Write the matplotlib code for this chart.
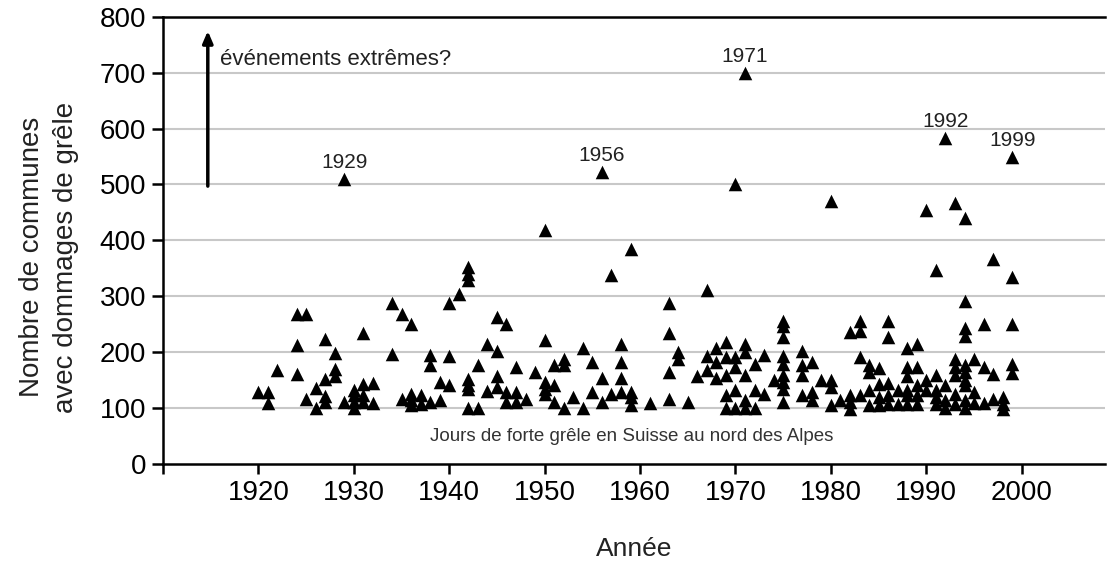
import matplotlib
matplotlib.use("Agg")
import matplotlib.pyplot as plt

# Hail days north of the Alps: for each year, the number of communes hit on each day
years = [1920, 1921, 1922, 1924, 1925, 1926, 1927, 1928, 1929,
         1930, 1931, 1932, 1934, 1935, 1936, 1937, 1938, 1939,
         1940, 1941, 1942, 1943, 1944, 1945, 1946, 1947, 1948, 1949,
         1950, 1951, 1952, 1953, 1954, 1955, 1956, 1957, 1958, 1959,
         1961, 1963, 1964, 1965, 1966, 1967, 1968, 1969,
         1970, 1971, 1972, 1973, 1974, 1975, 1977, 1978, 1979,
         1980, 1981, 1982, 1983, 1984, 1985, 1986, 1987, 1988, 1989,
         1990, 1991, 1992, 1993, 1994, 1995, 1996, 1997, 1998, 1999]
communes = [
    [128], [128, 108], [168], [267, 213, 161], [267, 115], [136, 99],
    [223, 152, 121, 110], [198, 169, 156], [510, 111],
    [131, 122, 110, 99], [234, 142, 122, 110], [144, 108], [288, 196],
    [267, 116], [250, 125, 113, 104], [122, 107], [195, 176, 110], [146, 113],
    [288, 193, 140], [304], [352, 340, 329, 152, 140, 134, 100], [176, 100],
    [214, 130], [262, 202, 156, 137], [250, 128, 110], [173, 128, 110],
    [115], [164],
    [418, 222, 146, 134, 125], [176, 140, 110], [188, 176, 99], [119],
    [207, 99], [182, 128], [522, 153, 111], [338, 125], [214, 181, 153, 128],
    [385, 129, 119, 104],
    [108], [287, 234, 164, 116], [200, 188], [111], [156], [310, 192, 168],
    [207, 182, 153], [218, 190, 158, 122, 100],
    [500, 190, 173, 131, 100], [700, 214, 200, 158, 113, 100], [178, 131, 100],
    [195, 124], [149], [255, 246, 226, 193, 179, 159, 146, 134, 111],
    [202, 176, 159, 122], [181, 128, 113], [149],
    [470, 149, 137, 105], [113], [236, 122, 110, 98], [256, 238, 190, 122],
    [176, 164, 131, 105], [172, 143, 119, 105], [256, 226, 145, 122, 107],
    [132, 107], [207, 173, 156, 131, 122, 107], [214, 173, 140, 122, 107],
    [455, 149, 131], [347, 158, 131, 119, 107], [583, 140, 113, 99],
    [467, 188, 173, 159, 125, 107],
    [440, 291, 243, 229, 176, 164, 149, 140, 113, 99], [188, 128, 108],
    [250, 173, 108], [367, 161, 115], [119, 107, 98], [550, 335, 250, 178, 163],
]
labelled_years = [1929, 1956, 1971, 1992, 1999]
x_ticks = [1910, 1920, 1930, 1940, 1950, 1960, 1970, 1980, 1990, 2000]
x_ticklabels = ["", "1920", "1930", "1940", "1950", "1960", "1970", "1980", "1990", "2000"]
y_ticks = [0, 100, 200, 300, 400, 500, 600, 700, 800]


def main():
    plt.rcParams["font.family"] = ["Liberation Sans", "DejaVu Sans"]

    x, y = [], []
    for year, values in zip(years, communes):
        for v in values:
            x.append(year)
            y.append(v)

    fig = plt.figure(figsize=(11.07, 5.63), dpi=100)
    ax = fig.add_axes([0.1472, 0.1767, 0.8508, 0.7931])

    for v in y_ticks[1:-1]:
        ax.axhline(v, color="#c8c8c8", lw=1.5, zorder=0)

    ax.scatter(x, y, marker="^", s=95, color="black", linewidths=0, zorder=3)

    for year in labelled_years:
        top = max(communes[years.index(year)])
        ax.annotate(str(year), (year, top), xytext=(0, 5), textcoords="offset points",
                    ha="center", va="bottom", fontsize=15, color="#222222")

    ax.annotate("", xy=(1914.7, 775), xytext=(1914.7, 497),
                arrowprops=dict(arrowstyle="-|>,head_length=0.7,head_width=0.3",
                                lw=2.5, color="black", shrinkA=0, shrinkB=0))
    ax.text(1916.0, 723, "événements extrêmes?", fontsize=16, va="center", color="#222222")
    ax.text(1959.1, 48, "Jours de forte grêle en Suisse au nord des Alpes",
            fontsize=13.5, ha="center", va="center", color="#333333")

    ax.set_xlim(1910, 2008.7)
    ax.set_ylim(0, 800)
    ax.set_xticks(x_ticks)
    ax.set_xticklabels(x_ticklabels)
    ax.set_yticks(y_ticks)

    for side in ["left", "bottom", "top"]:
        ax.spines[side].set_linewidth(1.8)
    ax.spines["right"].set_visible(False)
    ax.tick_params(axis="both", direction="out", width=1.8, labelsize=20, colors="black")
    ax.tick_params(axis="y", length=8, pad=4)
    ax.tick_params(axis="x", length=7, pad=5)

    ax.set_ylabel("Nombre de communes\navec dommages de grêle", fontsize=20,
                  color="#222222", linespacing=1.4)
    ax.yaxis.set_label_coords(-0.089, 0.4625)
    ax.set_xlabel("Année", fontsize=19, labelpad=22, color="#222222")

    fig.savefig("out.png", dpi=100)


if __name__ == "__main__":
    main()
